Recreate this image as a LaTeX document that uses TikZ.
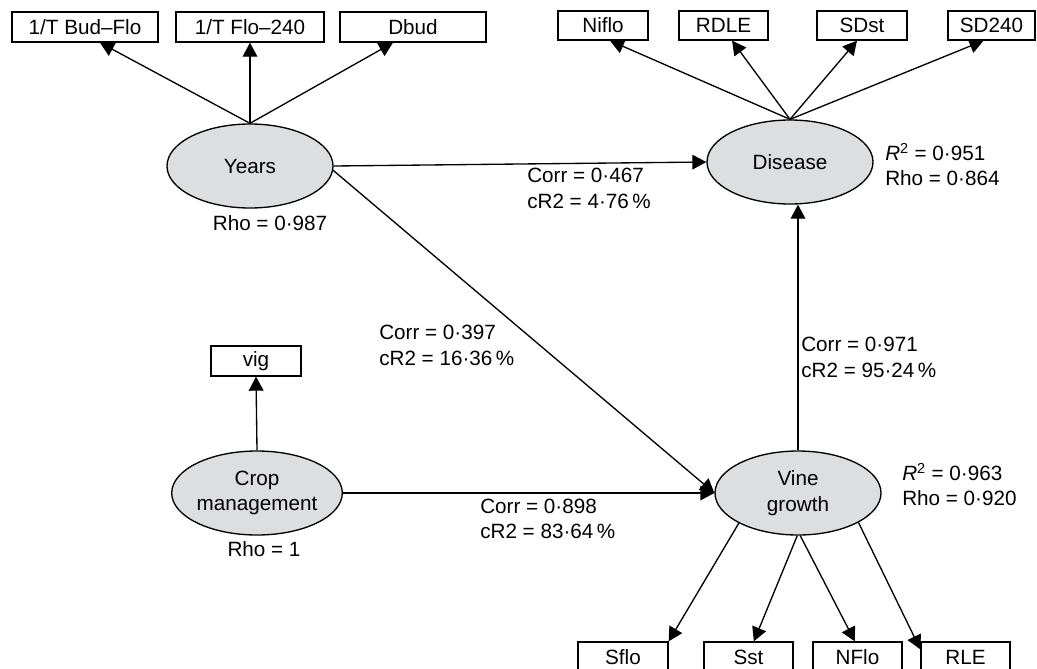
\documentclass[tikz,border=0pt]{standalone}
\usepackage{fontspec}
\setmainfont{Liberation Sans}
\usetikzlibrary{shapes.geometric,arrows.meta}
\definecolor{latfill}{RGB}{221,222,224}
\tikzset{
  txt/.style={font=\fontsize{15.5}{19}\selectfont, inner sep=0pt},
  latent/.style={txt, ellipse, draw, line width=1pt, fill=latfill,
    minimum width=124.5pt, minimum height=63pt, align=center},
  mbox/.style={txt, rectangle, draw, line width=1pt, minimum height=22.5pt},
  lbl/.style={txt, align=left, anchor=west},
  arr/.style={line width=1pt, -{Triangle[length=10.5pt,width=11pt]}},
}
\begin{document}
\begin{tikzpicture}[x=0.75pt,y=-0.75pt]
\useasboundingbox (0,0) rectangle (1037,668);
% latent variables
\node[latent] (years) at (250,166) {Years};
\node[latent] (disease) at (790,162) {Disease};
\node[latent] (crop) at (257,493) {Crop\\management};
\node[latent] (vine) at (798,493) {Vine\\growth};
% manifest boxes
\node[mbox, minimum width=109.5pt] (bf) at (85,27) {1/T Bud–Flo};
\node[mbox, minimum width=111pt] (f240) at (250,27) {1/T Flo–240};
\node[mbox, minimum width=109.5pt] (dbud) at (413,27) {Dbud};
\node[mbox, minimum width=67.5pt, minimum height=21.75pt] (niflo) at (603,25.5) {Niflo};
\node[mbox, minimum width=66.75pt, minimum height=21.75pt] (rdle) at (723.5,25.5) {RDLE};
\node[mbox, minimum width=67.5pt, minimum height=21.75pt] (sdst) at (862,25.5) {SDst};
\node[mbox, minimum width=65.25pt, minimum height=21.75pt] (sd240) at (991.5,25.5) {SD240};
\node[mbox, minimum width=67.5pt] (vig) at (256,361) {vig};
\node[mbox, minimum width=67.5pt] (sflo) at (623,657) {Sflo};
\node[mbox, minimum width=66.75pt] (sst) at (748.5,657) {Sst};
\node[mbox, minimum width=66.75pt] (nflo) at (857.5,657) {NFlo};
\node[mbox, minimum width=66.75pt] (rle) at (965.5,657) {RLE};
% labels
\node[txt] (rho987) at (270,223) {Rho = 0·987};
\node[txt] (rho1) at (264,549) {Rho = 1};
\node[lbl] (c467) at (527,188.5) {Corr = 0·467\\cR2 = 4·76\,\%};
\node[lbl] (c397) at (379,345.5) {Corr = 0·397\\cR2 = 16·36\,\%};
\node[lbl] (c971) at (801,357.5) {Corr = 0·971\\cR2 = 95·24\,\%};
\node[lbl] (c898) at (480,519) {Corr = 0·898\\cR2 = 83·64\,\%};
\node[lbl] (r951) at (885,164.5) {\textit{R}\textsuperscript{2} = 0·951\\Rho = 0·864};
\node[lbl] (r963) at (902,484.5) {\textit{R}\textsuperscript{2} = 0·963\\Rho = 0·920};
% Years indicators
\draw[arr] (years.north) -- ([xshift=11.25pt]bf.south);
\draw[arr] (years.north) -- (f240.south);
\draw[arr] (years.north) -- ([xshift=-15pt]dbud.south);
% Disease indicators
\draw[arr] (disease.north) -- ([xshift=5.25pt]niflo.south);
\draw[arr] (disease.north) -- ([xshift=6.4pt]rdle.south);
\draw[arr] (disease.north) -- ([xshift=-3.75pt]sdst.south);
\draw[arr] (disease.north) -- ([xshift=-6pt]sd240.south);
% Crop indicator
\draw[arr] (crop.north) -- (vig.south);
% Vine indicators
\draw[arr] (vine.-153.4) -- (sflo.north east);
\draw[arr] (vine.-91) -- ([xshift=4pt]sst.north);
\draw[arr] (vine.-87) -- ([xshift=-2pt]nflo.north);
\draw[arr] (vine.-26.6) -- ([yshift=-6pt]rle.north west);
% structural paths
\draw[arr] (years.east) -- (disease.west);
\draw[arr] (years.-3) -- (vine.west);
\draw[arr] (crop.east) -- (vine.west);
\draw[arr] (vine.north) -- (vine.north |- disease.south);
\end{tikzpicture}
\end{document}
